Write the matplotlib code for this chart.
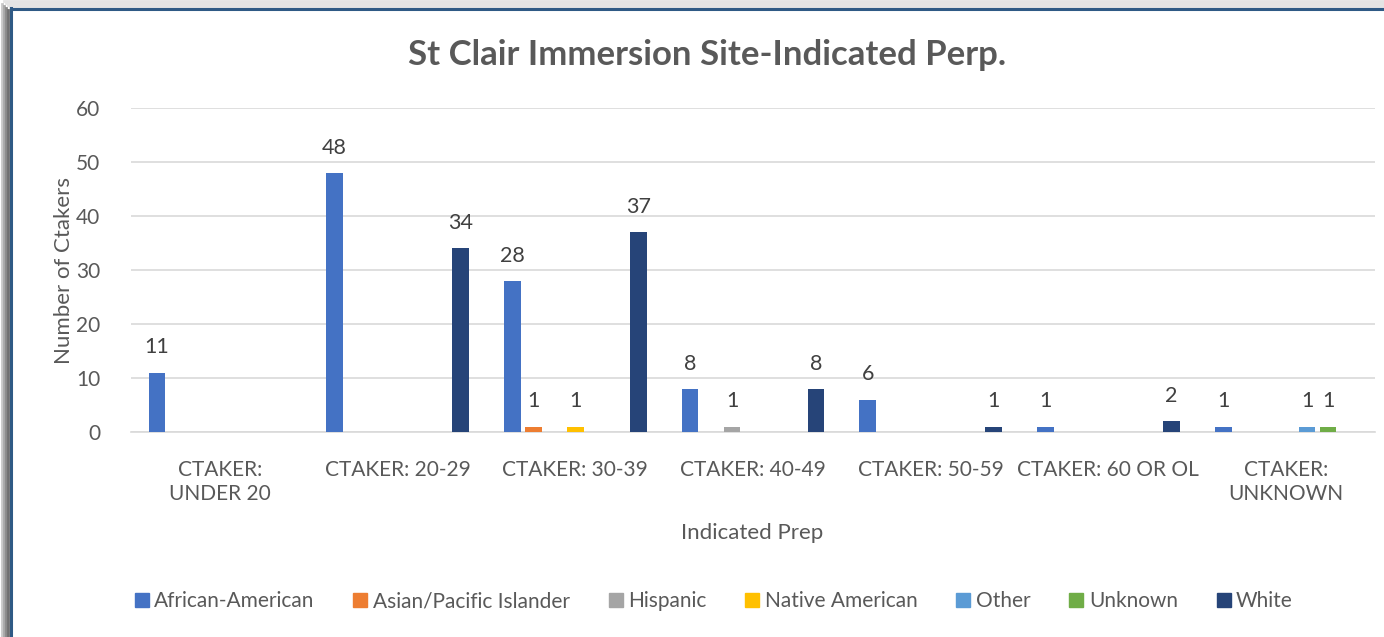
import matplotlib.pyplot as plt
import numpy as np
from matplotlib.lines import Line2D

plt.rcParams['font.family'] = ['Lato', 'DejaVu Sans']

# categories and series
categories = ['CTAKER:\nUNDER 20', 'CTAKER: 20-29', 'CTAKER: 30-39', 'CTAKER: 40-49',
              'CTAKER: 50-59', 'CTAKER: 60 OR OL', 'CTAKER:\nUNKNOWN']
series_names = ['African-American', 'Asian/Pacific Islander', 'Hispanic',
                'Native American', 'Other', 'Unknown', 'White']
african_american = [11, 48, 28, 8, 6, 1, 1]
asian_pacific = [0, 0, 1, 0, 0, 0, 0]
hispanic = [0, 0, 0, 1, 0, 0, 0]
native_american = [0, 0, 1, 0, 0, 0, 0]
other = [0, 0, 0, 0, 0, 0, 1]
unknown = [0, 0, 0, 0, 0, 0, 1]
white = [0, 34, 37, 8, 1, 2, 0]

all_series = [african_american, asian_pacific, hispanic, native_american, other, unknown, white]
colors = ['#4472C4', '#ED7D31', '#A5A5A5', '#FFC000', '#5B9BD5', '#70AD47', '#264478']

fig = plt.figure(figsize=(13.84, 6.37), dpi=100)
ax = fig.add_axes([131/1384, 1 - 432/637, (1375 - 131)/1384, (432 - 108)/637])

x = np.arange(len(categories))
slot = 0.118
barWidth = 0.094
for j, (vals, col, name) in enumerate(zip(all_series, colors, series_names)):
    bars = ax.bar(x + (j - 3) * slot, vals, width=barWidth, color=col, label=name, zorder=3)
    labels = [str(v) if v != 0 else '' for v in vals]
    ax.bar_label(bars, labels=labels, padding=11, fontsize=15.5, color='#404040')

ax.set_xlim(-0.5, len(categories) - 0.5)
ax.set_ylim(0, 60)
ax.set_yticks(range(0, 61, 10))
ax.yaxis.grid(True, color='#D9D9D9', linewidth=1.2, zorder=0)
ax.set_xticks(x)
ax.set_xticklabels(categories, fontsize=15, color='#595959', linespacing=1.25)
ax.tick_params(axis='both', length=0, labelsize=15, colors='#595959')
ax.tick_params(axis='x', pad=20)
ax.tick_params(axis='y', pad=22)
for s in ['top', 'right', 'left']:
    ax.spines[s].set_visible(False)
ax.spines['bottom'].set_color('#D9D9D9')
ax.spines['bottom'].set_linewidth(1.2)

ax.set_xlabel('Indicated Prep', fontsize=16, color='#595959', labelpad=0)
ax.xaxis.set_label_coords((752 - 131) / (1375 - 131), -(523 - 432) / (432 - 108))
ax.set_ylabel('Number of Ctakers', fontsize=16, color='#595959')
ax.yaxis.set_label_coords(-(131 - 74) / (1375 - 131), 0.5)

fig.text(707/1384, 1 - 55/637, 'St Clair Immersion Site-Indicated Perp.', ha='center', va='center',
         fontsize=25, fontweight='bold', color='#595959')

handles = [Line2D([0], [0], marker='s', linestyle='', markersize=10, markerfacecolor=c,
                  markeredgecolor=c) for c in colors]
fig.legend(handles, series_names, loc='center', bbox_to_anchor=(712/1384, 1 - 601/637), ncol=7,
           frameon=False, fontsize=15, labelcolor='#595959', handletextpad=0.1,
           columnspacing=1.7, handlelength=1.0)

# frame border with shadow
for i, g in enumerate(['#C8C8C8', '#A8A8A8', '#8A8A8A', '#707070']):
    fig.add_artist(Line2D([(2 + 2 * i) / 1384] * 2, [0, 1 - (4 + 2 * i) / 637],
                          transform=fig.transFigure, color=g, linewidth=2))
    fig.add_artist(Line2D([(4 + 2 * i) / 1384, 1], [1 - (1 + 2 * i) / 637] * 2,
                          transform=fig.transFigure, color='#E4E4E4', linewidth=2))
fig.add_artist(Line2D([10.5 / 1384] * 2, [0, 1 - 8 / 637], transform=fig.transFigure,
                      color='#2F5A85', linewidth=2.2))
fig.add_artist(Line2D([10.5 / 1384, 1], [1 - 8.5 / 637] * 2, transform=fig.transFigure,
                      color='#2F5A85', linewidth=2.2))

fig.savefig('out.png', dpi=100)
